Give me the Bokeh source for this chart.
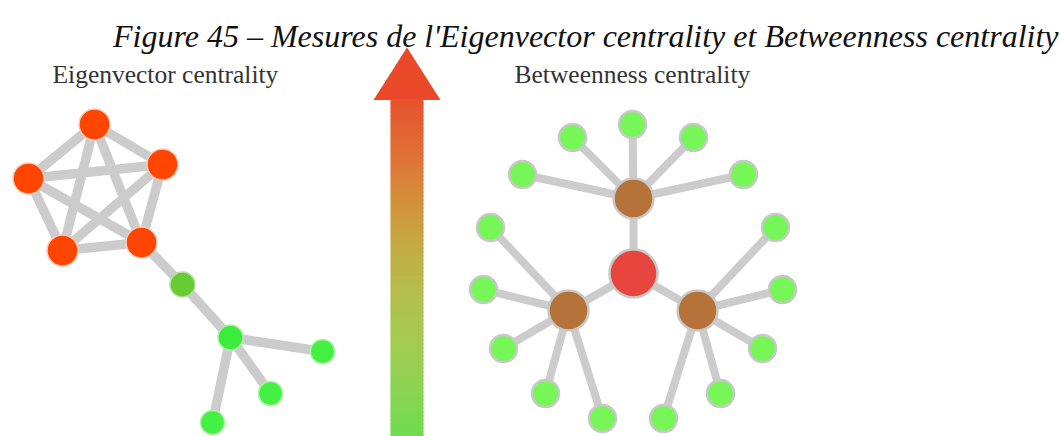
from bokeh.plotting import figure
from bokeh.models import Range1d
from bokeh.embed import file_html
from bokeh.resources import INLINE
from bokeh.core.properties import value

# ---------------- data (page pixel coordinates) ----------------
title_text = "Figure 45 \u2013 Mesures de l'Eigenvector centrality et Betweenness centrality"
left_label = "Eigenvector centrality"
right_label = "Betweenness centrality"

# Eigenvector graph
ev_x = [94, 162, 28, 62, 141, 182, 230, 322, 270, 212]
ev_y = [124, 164, 178, 250, 242, 284, 337, 351, 393, 422]
ev_r = [15.5, 15.5, 15.5, 15.5, 15.5, 12.5, 12.5, 12, 12, 12]
ev_fill = ["#FF4500"] * 5 + ["#66CC33", "#3DEB3D", "#44F044", "#44F044", "#44F044"]
ev_line = ["#F4CDBE"] * 5 + ["#B6DDA0", "#B0F0A8", "#B0F0A8", "#B0F0A8", "#B0F0A8"]
ev_edges = [(0, 1), (0, 2), (0, 3), (0, 4), (1, 2), (1, 3), (1, 4), (2, 3), (2, 4), (3, 4),
            (4, 5), (5, 6), (6, 7), (6, 8), (6, 9)]

# Betweenness graph
bc_x = [633, 633, 568, 697,
        522, 572, 632, 693, 743,
        490, 483, 503, 545, 602,
        775, 782, 762, 720, 663]
bc_y = [273, 198, 310, 310,
        174, 137, 124, 137, 174,
        227, 289, 348, 393, 418,
        227, 289, 348, 393, 418]
bc_r = [24, 20, 20, 20] + [13.5] * 15
bc_fill = ["#E8453F", "#B5733A", "#B5733A", "#B5733A"] + ["#76F757"] * 15
bc_edges = [(0, 1), (0, 2), (0, 3),
            (1, 4), (1, 5), (1, 6), (1, 7), (1, 8),
            (2, 9), (2, 10), (2, 11), (2, 12), (2, 13),
            (3, 14), (3, 15), (3, 16), (3, 17), (3, 18)]

# gradient arrow colour stops (page y, colour)
grad_y = [47, 90, 150, 200, 250, 300, 350, 400, 436]
grad_c = [(234, 68, 38), (232, 78, 42), (224, 110, 52), (212, 144, 60), (195, 172, 69),
          (178, 192, 80), (160, 204, 82), (133, 213, 82), (112, 220, 80)]

# ---------------- figure ----------------
W, H = 1062, 436
p = figure(width=W, height=H, output_backend="svg", toolbar_location=None,
           x_range=Range1d(0, W), y_range=Range1d(H, 0),
           min_border=0, outline_line_color=None)
p.axis.visible = False
p.grid.visible = False
p.background_fill_color = "white"
p.border_fill_color = "white"

# edges
p.multi_line(xs=[[ev_x[a], ev_x[b]] for a, b in ev_edges],
             ys=[[ev_y[a], ev_y[b]] for a, b in ev_edges],
             line_color="#CCCCCC", line_width=9.5, line_cap="round")
p.multi_line(xs=[[bc_x[a], bc_x[b]] for a, b in bc_edges],
             ys=[[bc_y[a], bc_y[b]] for a, b in bc_edges],
             line_color="#CCCCCC", line_width=8, line_cap="round")

# nodes
p.scatter(x=ev_x, y=ev_y, size=[2 * r for r in ev_r], marker="circle",
          fill_color=ev_fill, line_color=ev_line, line_width=1.5)
p.scatter(x=bc_x, y=bc_y, size=[2 * r for r in bc_r], marker="circle",
          fill_color=bc_fill, line_color="#C8C8C8", line_width=2.5)

# gradient arrow
def col_at(y):
    for i in range(len(grad_y) - 1):
        if grad_y[i] <= y <= grad_y[i + 1]:
            t = (y - grad_y[i]) / (grad_y[i + 1] - grad_y[i])
            c = [round(grad_c[i][k] + t * (grad_c[i + 1][k] - grad_c[i][k])) for k in range(3)]
            return "#%02x%02x%02x" % tuple(c)
    return "#%02x%02x%02x" % grad_c[-1]

shaft_l, shaft_r, head_l, head_r, tip_x, tip_y, head_base = 390, 423, 373, 440, 406.5, 47, 99
# solid head
p.patch(x=[tip_x, head_r, head_l], y=[tip_y, head_base + 0.5, head_base + 0.5],
        fill_color=col_at(70), line_color=None)
# shaft: stacked slices (4 px each, overlapping)
tops, bots, cols = [], [], []
y = head_base
while y < H:
    tops.append(y)
    bots.append(y + 5)
    cols.append(col_at(y + 2))
    y += 4
p.quad(left=shaft_l, right=shaft_r, top=tops, bottom=bots, fill_color=cols, line_color=None)

# texts
p.text(x=[1058], y=[35], text=[title_text], text_font=value("Liberation Serif"),
       text_font_style="italic", text_font_size="32px", text_color="#111111",
       text_align="right", text_baseline="alphabetic")
p.text(x=[52, 514], y=[74, 74], text=[left_label, right_label],
       text_font=value("Liberation Serif"), text_font_size="25.5px",
       text_color="#333333", text_align="left", text_baseline="alphabetic")

open("out.html", "w").write(file_html(p, INLINE))
